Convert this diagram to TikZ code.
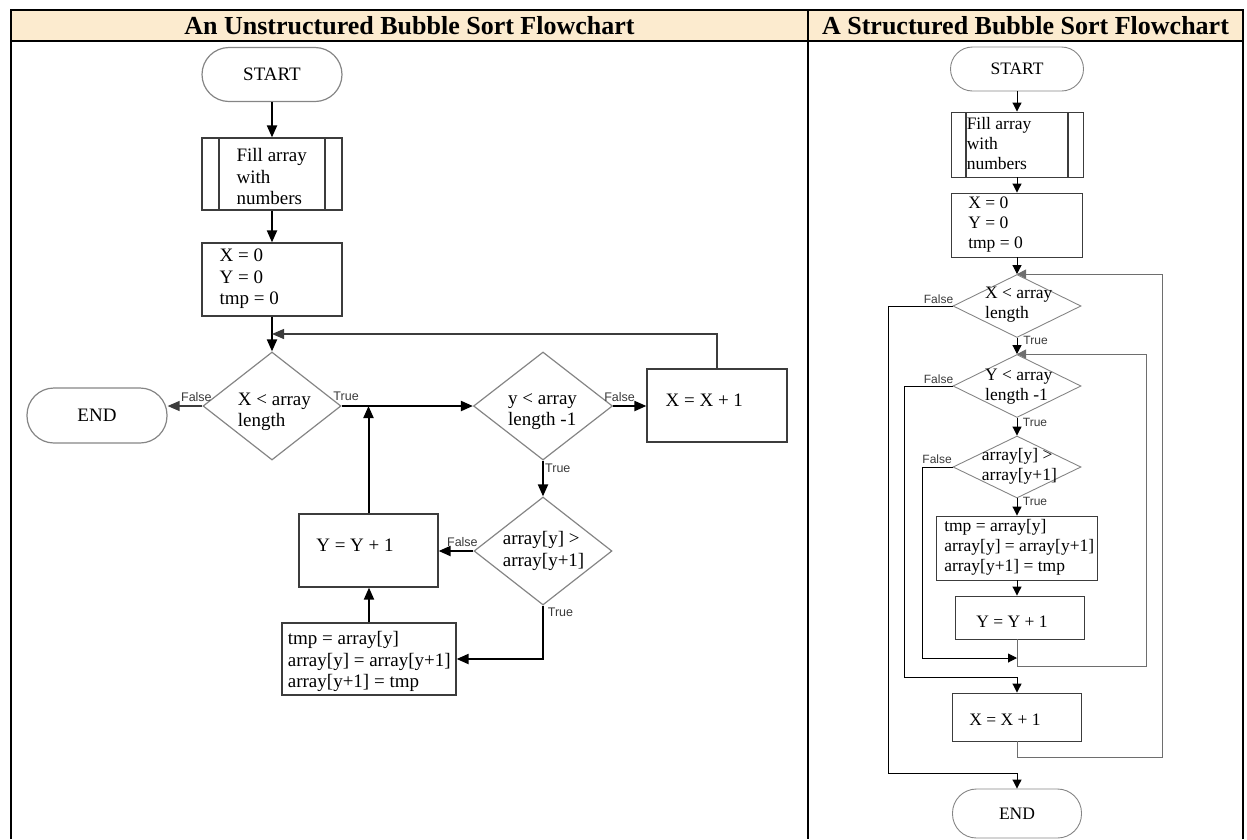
\documentclass[tikz,border=0pt]{standalone}
\usepackage{fontspec}
\setmainfont{Liberation Serif}
\newfontfamily\lblfont{Liberation Sans}
\usetikzlibrary{arrows.meta,shapes.geometric}
\definecolor{hdrfill}{HTML}{FCEBCF}
\definecolor{shpgray}{HTML}{858585}
\definecolor{boxgray}{HTML}{3C3C3C}
\definecolor{loopgray}{HTML}{6E6E6E}
\definecolor{lblgray}{HTML}{3A3A3A}
\newcommand{\bodyL}{\fontsize{19}{21.5}\selectfont}
\newcommand{\bodyR}{\fontsize{17.5}{20}\selectfont}
\tikzset{
  term/.style={draw=shpgray,line width=1.2pt,rounded corners=#1,inner sep=0pt},
  proc/.style={draw=boxgray,line width=1.2pt,inner sep=0pt},
  subproc/.style={proc,path picture={\draw[boxgray,line width=1.2pt]
    ([xshift=#1]path picture bounding box.north west)--([xshift=#1]path picture bounding box.south west)
    ([xshift=-#1]path picture bounding box.north east)--([xshift=-#1]path picture bounding box.south east);}},
  dec/.style={diamond,draw=shpgray,line width=1.2pt,inner sep=0pt},
  thinR/.style={line width=0.9pt},
  txt/.style={inner sep=0pt,align=left,anchor=west},
  lbl/.style={inner sep=0pt,text=lblgray,font=\lblfont\fontsize{12.5}{14}\selectfont},
  lblR/.style={lbl,font=\lblfont\fontsize{12}{14}\selectfont},
  flowL/.style={line width=2pt,-{Triangle[length=12pt,width=10pt]}},
  flowR/.style={line width=1pt,-{Triangle[length=9pt,width=9pt]}},
  loopR/.style={flowR,draw=loopgray}
}
\begin{document}
\begin{tikzpicture}[x=1pt,y=-1pt]
\useasboundingbox (0,0) rectangle (1247,839);
\fill[hdrfill] (11,10) rectangle (1243,41);
\draw[line width=2.5pt] (11,839)--(11,10)--(1243,10)--(1243,839) (11,41)--(1243,41) (808,10)--(808,839);
\node[font=\bfseries\fontsize{26}{28}\selectfont] (hdrL) at (409.5,25.5) {An Unstructured Bubble Sort Flowchart};
\node[font=\bfseries\fontsize{26}{28}\selectfont] (hdrR) at (1025.5,25.5) {A Structured Bubble Sort Flowchart};

\node[term=27pt,minimum width=140pt,minimum height=54pt,font=\bodyL] (startL) at (272,74.5) {START};
\node[subproc=17pt,minimum width=140pt,minimum height=72pt] (fillL) at (272,174) {};
\node[proc,minimum width=140pt,minimum height=73pt] (initL) at (272,279.5) {};
\node[dec,minimum width=138pt,minimum height=108pt] (dxL) at (272,406) {};
\node[term=27pt,minimum width=140pt,minimum height=55pt,font=\bodyL] (endL) at (97,415.5) {END};
\node[dec,minimum width=139pt,minimum height=108pt] (dyL) at (543,406) {};
\node[proc,minimum width=140pt,minimum height=73pt] (incxL) at (717,405.5) {};
\node[dec,minimum width=138pt,minimum height=108pt] (dcL) at (543,551) {};
\node[proc,minimum width=139pt,minimum height=73pt] (incyL) at (368.5,550.5) {};
\node[proc,minimum width=174pt,minimum height=72pt] (swapL) at (369,659) {};

\node[txt,font=\bodyL] (tFillL) at ([shift={(35,2.7)}]fillL.west) {Fill array\\with\\numbers};
\node[txt,font=\bodyL] (tInitL) at ([shift={(18,-0.5)}]initL.west) {X = 0\\Y = 0\\tmp = 0};
\node[txt,font=\bodyL] (tdxL) at ([shift={(-34.3,5.7)}]dxL.center) {X < array\\length};
\node[txt,font=\bodyL] (tdyL) at ([shift={(-35,5.7)}]dyL.center) {y < array\\length -1};
\node[txt,font=\bodyL] (tIncxL) at ([shift={(19,-5.5)}]incxL.west) {X = X + 1};
\node[txt,font=\bodyL] (tdcL) at ([shift={(-40.3,0)}]dcL.center) {array[y] >\\array[y+1]};
\node[txt,font=\bodyL] (tIncyL) at ([shift={(17.7,-5.5)}]incyL.west) {Y = Y + 1};
\node[txt,font=\bodyL] (tSwapL) at ([shift={(6.3,2.7)}]swapL.west) {tmp = array[y]\\array[y] = array[y+1]\\array[y+1] = tmp};

\coordinate (jL) at (272,334);
\draw[flowL] (startL) -- (fillL);
\draw[flowL] (fillL) -- (initL);
\draw[flowL] (initL) -- (dxL.north);
\draw[flowL,line width=1.3pt,draw=boxgray] (incxL.north) |- (jL);
\draw[flowL,line width=1.3pt,draw=boxgray] (dxL.west) -- (dxL.west -| endL.east);
\draw[flowL] (dxL.east) -- (dyL.west);
\draw[flowL] (incyL.north) -- (incyL.north |- dxL.east);
\draw[flowL] (dyL.east) -- (dyL.east -| incxL.west);
\draw[flowL] (dyL.south) -- (dcL.north);
\draw[flowL] (dcL.west) -- (dcL.west -| incyL.east);
\draw[flowL] (dcL.south) |- (swapL.east);
\draw[flowL] (swapL.north) -- (swapL.north |- incyL.south);

\node[lbl] (fL1) at ([shift={(-6,-8.7)}]dxL.west) {False};
\node[lbl] (tL1) at ([shift={(4.5,-9.3)}]dxL.east) {True};
\node[lbl] (fL2) at ([shift={(6.5,-9.3)}]dyL.east) {False};
\node[lbl] (tL2) at ([shift={(14.8,7.3)}]dyL.south) {True};
\node[lbl] (fL3) at ([shift={(-11,-9)}]dcL.west) {False};
\node[lbl] (tL3) at ([shift={(17.5,6.7)}]dcL.south) {True};

\node[term=22pt,thinR,minimum width=133pt,minimum height=44pt,font=\bodyR] (startR) at (1017,69) {START};
\node[subproc=15pt,thinR,minimum width=132pt,minimum height=65pt] (fillR) at (1017,144.5) {};
\node[proc,thinR,minimum width=131pt,minimum height=64pt] (initR) at (1017,225) {};
\node[dec,thinR,minimum width=128pt,minimum height=63pt] (dxR) at (1017,306) {};
\node[dec,thinR,minimum width=128pt,minimum height=63pt] (dyR) at (1017,386) {};
\node[dec,thinR,minimum width=128pt,minimum height=62pt] (dcR) at (1017,467) {};
\node[proc,thinR,minimum width=161pt,minimum height=64pt] (swapR) at (1017,548) {};
\node[proc,thinR,minimum width=129pt,minimum height=43pt] (incyR) at (1019.5,617.5) {};
\node[proc,thinR,minimum width=129pt,minimum height=48pt] (incxR) at (1017,717) {};
\node[term=24pt,thinR,minimum width=129pt,minimum height=49pt,font=\bodyR] (endR) at (1017,813.5) {END};

\node[txt,font=\bodyR] (tFillR) at ([shift={(16,-1.2)}]fillR.west) {Fill array\\with\\numbers};
\node[txt,font=\bodyR] (tInitR) at ([shift={(17,-0.7)}]initR.west) {X = 0\\Y = 0\\tmp = 0};
\node[txt,font=\bodyR] (tdxR) at ([shift={(-32,-1.5)}]dxR.center) {X < array\\length};
\node[txt,font=\bodyR] (tdyR) at ([shift={(-32,0.7)}]dyR.center) {Y < array\\length -1};
\node[txt,font=\bodyR] (tdcR) at ([shift={(-35.3,-1)}]dcR.center) {array[y] >\\array[y+1]};
\node[txt,font=\bodyR] (tSwapR) at ([shift={(8,-0.8)}]swapR.west) {tmp = array[y]\\array[y] = array[y+1]\\array[y+1] = tmp};
\node[txt,font=\bodyR] (tIncyR) at ([shift={(21.7,4.2)}]incyR.west) {Y = Y + 1};
\node[txt,font=\bodyR] (tIncxR) at ([shift={(17,2.3)}]incxR.west) {X = X + 1};

\coordinate (cyR) at (1146,666);
\coordinate (cxR) at (1162,757);
\coordinate (fcR) at (922,658);
\coordinate (fyR) at (904,677);
\coordinate (fxR) at (888,773);
\draw[flowR] (startR) -- (fillR);
\draw[flowR] (fillR) -- (initR);
\draw[flowR] (initR) -- (dxR.north);
\draw[flowR] (dxR.south) -- (dyR.north);
\draw[flowR] (dyR.south) -- (dcR.north);
\draw[flowR] (dcR.south) -- (swapR.north);
\draw[flowR] (swapR.south) -- (swapR.south |- incyR.north);
\draw[loopR] (incyR.south -| dcR.south) |- (cyR) |- (dyR.north);
\draw[loopR] (incxR.south) |- (cxR) |- (dxR.north);
\draw[flowR] (dcR.west) -| (fcR) -- (fcR -| dcR.south);
\draw[flowR] (dyR.west) -| (fyR) -| (incxR.north);
\draw[flowR] (dxR.west) -| (fxR) -| (endR.north);

\node[lblR] (fR1) at ([shift={(-14,-6.7)}]dxR.west) {False};
\node[lblR] (tR1) at ([shift={(18.6,2)}]dxR.south) {True};
\node[lblR] (fR2) at ([shift={(-14,-6.7)}]dyR.west) {False};
\node[lblR] (tR2) at ([shift={(18,4)}]dyR.south) {True};
\node[lblR] (fR3) at ([shift={(-15.4,-7.3)}]dcR.west) {False};
\node[lblR] (tR3) at ([shift={(18,3.4)}]dcR.south) {True};
\end{tikzpicture}
\end{document}
